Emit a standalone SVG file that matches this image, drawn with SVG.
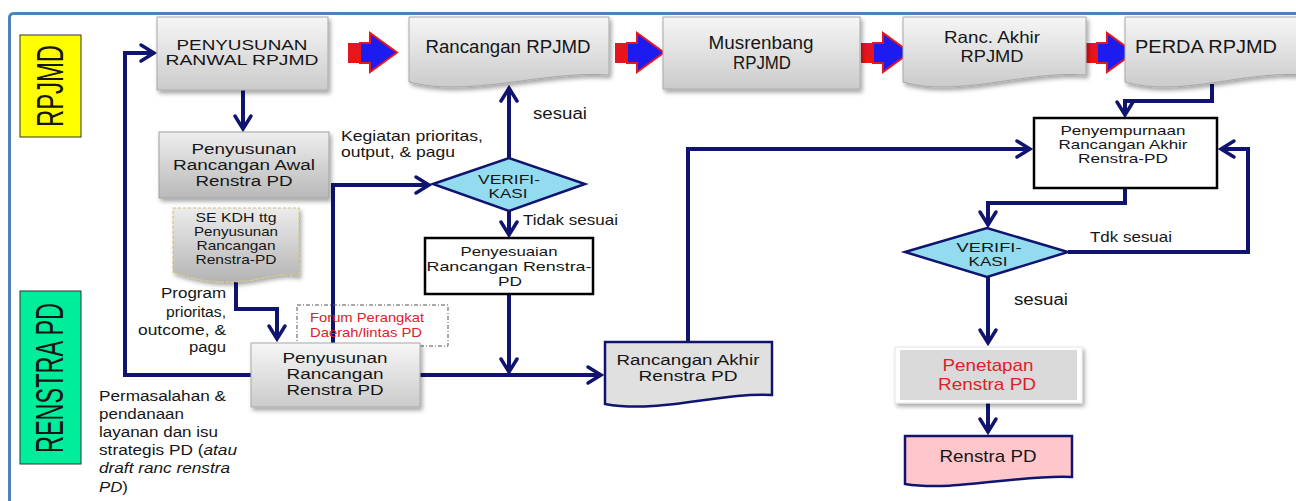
<svg xmlns="http://www.w3.org/2000/svg" width="1296" height="501" viewBox="0 0 1296 501">
<style>
.t{font-family:"Liberation Sans",Arial,sans-serif;fill:#161616}
.c{text-anchor:middle}
.e{text-anchor:end}
.red{fill:#e0202a}
.con{fill:none;stroke:#10146e;stroke-width:4;stroke-linejoin:miter}
.arr{marker-end:url(#ah)}
.gbox{fill:url(#gGray);stroke:#a8a8a8;stroke-width:1;filter:url(#sh)}
.wbox{fill:#ffffff;stroke:#000000;stroke-width:2.5}
.dia{fill:#93dbef;stroke:#10146e;stroke-width:2.5}
</style>
<defs>
<linearGradient id="gGray" x1="0" y1="0" x2="0" y2="1">
<stop offset="0" stop-color="#f6f6f6"/><stop offset="1" stop-color="#cbcbcb"/>
</linearGradient>
<linearGradient id="gGray2" x1="0" y1="0" x2="0" y2="1">
<stop offset="0" stop-color="#eeeeee"/><stop offset="1" stop-color="#b9b9b9"/>
</linearGradient>
<linearGradient id="gSe" x1="0" y1="0" x2="0" y2="1">
<stop offset="0" stop-color="#ececec"/><stop offset="1" stop-color="#b4b4b4"/>
</linearGradient>
<filter id="sh" x="-10%" y="-10%" width="125%" height="135%">
<feDropShadow dx="2" dy="3" stdDeviation="2" flood-color="#000" flood-opacity="0.35"/>
</filter>
<marker id="ah" markerUnits="userSpaceOnUse" markerWidth="24" markerHeight="24" viewBox="-16 -12 20 24" refX="0" refY="0" orient="auto" overflow="visible">
<path d="M-13,-8 L0,0 L-13,8" fill="none" stroke="#10146e" stroke-width="3.5" stroke-linecap="round"/>
</marker>
<g id="blk">
<rect x="0" y="10" width="12" height="20" fill="#e8141e"/>
<path d="M12,10 H22 V0 L49,19.5 L22,39 V30 H12 Z" fill="#1c1cf0" stroke="#e8141e" stroke-width="2"/>
</g>
</defs>

<rect x="9.5" y="13.5" width="1300" height="520" rx="4" fill="#ffffff" stroke="#4f81bd" stroke-width="3"/>

<g id="lbl-rpjmd">
<rect x="20" y="35" width="61" height="102" fill="#ffff00" stroke="#333" stroke-width="1"/>
<text class="t c" transform="translate(63,86) rotate(-90)" font-size="37" textLength="82" lengthAdjust="spacingAndGlyphs">RPJMD</text>
</g>
<g id="lbl-renstra">
<rect x="20" y="291" width="61" height="173" fill="#00ee9c" stroke="#333" stroke-width="1"/>
<text class="t c" transform="translate(63,378) rotate(-90)" font-size="38" textLength="150" lengthAdjust="spacingAndGlyphs">RENSTRA PD</text>
</g>

<g id="connectors">
<path class="con arr" d="M251,375 H125 V53 H154"/>
<path class="con arr" d="M243,90 V129"/>
<path class="con arr" d="M236,282 V309 H277 V339"/>
<path class="con arr" d="M333,343 V185 H429"/>
<path class="con arr" d="M509,158 V88"/>
<path class="con arr" d="M509,211 V235"/>
<path class="con arr" d="M509,294 V372"/>
<path class="con arr" d="M420,375 H601"/>
<path class="con arr" d="M688,342 V149 H1030"/>
<path class="con arr" d="M1212,84 V101 H1125 V115"/>
<path class="con arr" d="M1125,188 V203 H988 V225"/>
<path class="con arr" d="M1068,252 H1248 V149 H1221"/>
<path class="con arr" d="M988,277 V343"/>
<path class="con arr" d="M988,403 V432"/>
</g>

<g id="block-arrows">
<use href="#blk" x="348" y="33"/>
<use href="#blk" x="615" y="33"/>
<use href="#blk" x="861" y="33"/>
<use href="#blk" x="1085" y="33"/>
</g>

<g id="n-ranwal">
<rect class="gbox" x="157" y="17" width="171" height="73"/>
<text class="t c" x="242" y="50" font-size="15.5" textLength="131" lengthAdjust="spacingAndGlyphs">PENYUSUNAN</text>
<text class="t c" x="242" y="65" font-size="15.5" textLength="153" lengthAdjust="spacingAndGlyphs">RANWAL  RPJMD</text>
</g>

<g id="n-rancangan-rpjmd">
<path class="gbox" d="M409,17 H609 V75 C545,70 470,98 409,82 Z"/>
<text class="t c" x="508" y="53" font-size="17.5" textLength="165" lengthAdjust="spacingAndGlyphs">Rancangan RPJMD</text>
</g>

<g id="n-musrenbang">
<rect class="gbox" x="663" y="17" width="197" height="72"/>
<text class="t c" x="761" y="49" font-size="17.5" textLength="105" lengthAdjust="spacingAndGlyphs">Musrenbang</text>
<text class="t c" x="762" y="69" font-size="17.5" textLength="58" lengthAdjust="spacingAndGlyphs">RPJMD</text>
</g>

<g id="n-ranc-akhir-rpjmd">
<path class="gbox" d="M903,17 H1086 V75 C1027,70 958,98 903,82 Z"/>
<text class="t c" x="992" y="43" font-size="16.5" textLength="96" lengthAdjust="spacingAndGlyphs">Ranc. Akhir</text>
<text class="t c" x="992" y="62" font-size="16.5" textLength="63" lengthAdjust="spacingAndGlyphs">RPJMD</text>
</g>

<g id="n-perda">
<path class="gbox" d="M1125,17 H1305 V75 C1245,70 1180,98 1125,82 Z"/>
<text class="t c" x="1206" y="53" font-size="17.5" textLength="142" lengthAdjust="spacingAndGlyphs">PERDA RPJMD</text>
</g>

<g id="n-ranwal-renstra">
<rect x="159" y="132" width="170" height="66" fill="url(#gGray2)" stroke="#a0a0a0" stroke-width="1" filter="url(#sh)"/>
<text class="t c" x="244" y="154" font-size="15.5" textLength="105" lengthAdjust="spacingAndGlyphs">Penyusunan</text>
<text class="t c" x="244" y="170" font-size="15.5" textLength="142" lengthAdjust="spacingAndGlyphs">Rancangan Awal</text>
<text class="t c" x="244" y="186" font-size="15.5" textLength="97" lengthAdjust="spacingAndGlyphs">Renstra PD</text>
</g>

<g id="t-kegiatan">
<text class="t" x="341" y="141" font-size="15" textLength="142" lengthAdjust="spacingAndGlyphs">Kegiatan  prioritas,</text>
<text class="t" x="341" y="157" font-size="15" textLength="114" lengthAdjust="spacingAndGlyphs">output, &amp; pagu</text>
</g>

<g id="n-se-kdh">
<path d="M173,208 H299 V276 C270,268 240,296 173,272 Z" fill="url(#gSe)" stroke="#d2c27a" stroke-width="1.2" stroke-dasharray="3,2" filter="url(#sh)"/>
<text class="t c" x="236" y="222" font-size="13" textLength="81" lengthAdjust="spacingAndGlyphs">SE KDH  ttg</text>
<text class="t c" x="236" y="236" font-size="13" textLength="84" lengthAdjust="spacingAndGlyphs">Penyusunan</text>
<text class="t c" x="236" y="250" font-size="13" textLength="79" lengthAdjust="spacingAndGlyphs">Rancangan</text>
<text class="t c" x="236" y="264" font-size="13" textLength="81" lengthAdjust="spacingAndGlyphs">Renstra-PD</text>
</g>

<g id="t-program">
<text class="t e" x="226" y="298" font-size="15.5" textLength="65" lengthAdjust="spacingAndGlyphs">Program</text>
<text class="t e" x="226" y="317" font-size="15.5" textLength="60" lengthAdjust="spacingAndGlyphs">prioritas,</text>
<text class="t e" x="226" y="335" font-size="15.5" textLength="88" lengthAdjust="spacingAndGlyphs">outcome, &amp;</text>
<text class="t e" x="226" y="352" font-size="15.5" textLength="37" lengthAdjust="spacingAndGlyphs">pagu</text>
</g>

<g id="t-permasalahan">
<text class="t" x="99" y="401" font-size="15.5" textLength="127" lengthAdjust="spacingAndGlyphs">Permasalahan &amp;</text>
<text class="t" x="99" y="419" font-size="15.5" textLength="85" lengthAdjust="spacingAndGlyphs">pendanaan</text>
<text class="t" x="99" y="437" font-size="15.5" textLength="119" lengthAdjust="spacingAndGlyphs">layanan dan isu</text>
<text class="t" x="99" y="455" font-size="15.5" textLength="138" lengthAdjust="spacingAndGlyphs">strategis PD (<tspan font-style="italic">atau</tspan></text>
<text class="t" x="99" y="473" font-size="15.5" font-style="italic" textLength="131" lengthAdjust="spacingAndGlyphs">draft ranc renstra</text>
<text class="t" x="99" y="492" font-size="15.5" textLength="29" lengthAdjust="spacingAndGlyphs"><tspan font-style="italic">PD</tspan>)</text>
</g>

<g id="n-forum">
<rect x="297" y="305" width="151" height="41" fill="none" stroke="#555" stroke-width="1" stroke-dasharray="4,2,1,2"/>
<text class="t c red" x="367" y="322" font-size="13.5" textLength="114" lengthAdjust="spacingAndGlyphs">Forum Perangkat</text>
<text class="t c red" x="366" y="337" font-size="13.5" textLength="112" lengthAdjust="spacingAndGlyphs">Daerah/lintas PD</text>
</g>

<g id="n-penyusunan-renstra">
<rect class="gbox" x="251" y="343" width="169" height="64"/>
<text class="t c" x="335" y="363" font-size="15.5" textLength="105" lengthAdjust="spacingAndGlyphs">Penyusunan</text>
<text class="t c" x="335" y="379" font-size="15.5" textLength="97" lengthAdjust="spacingAndGlyphs">Rancangan</text>
<text class="t c" x="335" y="395" font-size="15.5" textLength="97" lengthAdjust="spacingAndGlyphs">Renstra PD</text>
</g>

<g id="n-verifikasi-1">
<path class="dia" d="M433,184 L509,158 L585,184 L509,211 Z"/>
<text class="t c" x="509" y="184" font-size="13.5" textLength="62" lengthAdjust="spacingAndGlyphs">VERIFI-</text>
<text class="t c" x="508" y="198" font-size="13.5" textLength="39" lengthAdjust="spacingAndGlyphs">KASI</text>
</g>
<text class="t" x="533" y="119" font-size="16" textLength="54" lengthAdjust="spacingAndGlyphs">sesuai</text>
<text class="t" x="523" y="225" font-size="15" textLength="95" lengthAdjust="spacingAndGlyphs">Tidak sesuai</text>

<g id="n-penyesuaian">
<rect class="wbox" x="425" y="238" width="168" height="56"/>
<text class="t c" x="509" y="256" font-size="13.5" textLength="97" lengthAdjust="spacingAndGlyphs">Penyesuaian</text>
<text class="t c" x="509" y="271" font-size="13.5" textLength="165" lengthAdjust="spacingAndGlyphs">Rancangan Renstra-</text>
<text class="t c" x="510" y="286" font-size="13.5" textLength="24" lengthAdjust="spacingAndGlyphs">PD</text>
</g>

<g id="n-rancangan-akhir-renstra">
<path d="M605,342 H772 V395 C720,392 660,414 605,404 Z" fill="#e0e0e0" stroke="#10146e" stroke-width="2.5"/>
<text class="t c" x="688" y="365" font-size="15.5" textLength="143" lengthAdjust="spacingAndGlyphs">Rancangan Akhir</text>
<text class="t c" x="688" y="381" font-size="15.5" textLength="99" lengthAdjust="spacingAndGlyphs">Renstra PD</text>
</g>

<g id="n-penyempurnaan">
<rect class="wbox" x="1034" y="118" width="183" height="70"/>
<text class="t c" x="1123" y="135" font-size="13" textLength="125" lengthAdjust="spacingAndGlyphs">Penyempurnaan</text>
<text class="t c" x="1123" y="149" font-size="13" textLength="129" lengthAdjust="spacingAndGlyphs">Rancangan Akhir</text>
<text class="t c" x="1123" y="163" font-size="13" textLength="90" lengthAdjust="spacingAndGlyphs">Renstra-PD</text>
</g>

<g id="n-verifikasi-2">
<path class="dia" d="M905,252 L987,228 L1068,252 L987,277 Z"/>
<text class="t c" x="989" y="252" font-size="13.5" textLength="65" lengthAdjust="spacingAndGlyphs">VERIFI-</text>
<text class="t c" x="988" y="266" font-size="13.5" textLength="39" lengthAdjust="spacingAndGlyphs">KASI</text>
</g>
<text class="t" x="1090" y="242" font-size="15" textLength="82" lengthAdjust="spacingAndGlyphs">Tdk sesuai</text>
<text class="t" x="1014" y="305" font-size="16" textLength="54" lengthAdjust="spacingAndGlyphs">sesuai</text>

<g id="n-penetapan">
<rect x="895" y="347" width="187" height="56" fill="#ffffff" stroke="#e6e6e6" stroke-width="1" filter="url(#sh)"/>
<rect x="900" y="350" width="177" height="50" fill="#dadada"/>
<text class="t c red" x="988" y="371" font-size="17" textLength="91" lengthAdjust="spacingAndGlyphs">Penetapan</text>
<text class="t c red" x="987" y="390" font-size="17" textLength="98" lengthAdjust="spacingAndGlyphs">Renstra PD</text>
</g>

<g id="n-renstra-pd">
<path d="M905,436 H1072 V477 C1020,474 955,492 905,484 Z" fill="#ffc6cb" stroke="#10146e" stroke-width="2.5"/>
<text class="t c" x="988" y="462" font-size="17" textLength="97" lengthAdjust="spacingAndGlyphs">Renstra PD</text>
</g>
</svg>
